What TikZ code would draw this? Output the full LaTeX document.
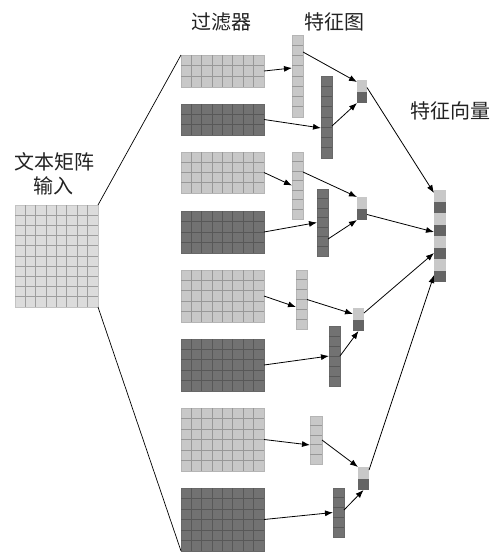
\documentclass[tikz,border=0pt]{standalone}
\usepackage{fontspec}
\newfontfamily\cjk{Noto Sans CJK SC}
\usetikzlibrary{arrows.meta,fit,calc}
\definecolor{lightfill}{HTML}{C8C8C8}
\definecolor{lightline}{HTML}{989898}
\definecolor{darkfill}{HTML}{727272}
\definecolor{darkline}{HTML}{585858}
\definecolor{poolfill}{HTML}{646464}
\definecolor{inputfill}{HTML}{DCDCDC}
\definecolor{inputline}{HTML}{9E9E9E}
\definecolor{txt}{HTML}{222222}
\tikzset{
  lab/.style={font=\cjk\fontsize{20}{24.5}\selectfont, text=txt, inner sep=0pt},
  arr/.style={-{Latex[length=8pt,width=6pt]}, line width=0.8pt},
  conn/.style={line width=0.7pt},
}
% name x1 y1 x2 y2 cols rows fill line
\newcommand\mgrid[9]{%
  \node[fit={(#2,#3) (#4,#5)}, inner sep=0pt, outer sep=0pt, fill=#8, draw=#9!40!#8, line width=0.6pt] (#1) {};
  \pgfmathsetmacro\rh{(#5-#3)/#7}%
  \pgfmathtruncatemacro\nr{#7-1}%
  \foreach \j in {1,...,\nr}{\draw[#9, line width=0.9pt] (#2,{#3+\j*\rh}) -- (#4,{#3+\j*\rh});}%
  \ifnum#6>1
    \pgfmathsetmacro\cw{(#4-#2)/#6}%
    \pgfmathtruncatemacro\nc{#6-1}%
    \foreach \i in {1,...,\nc}{\draw[#9, line width=0.9pt] ({#2+\i*\cw},#3) -- ({#2+\i*\cw},#5);}%
  \fi
}
% name x1 y1 x2 y2 n  (alternating light / dark cells)
\newcommand\mstack[6]{%
  \node[fit={(#2,#3) (#4,#5)}, inner sep=0pt, outer sep=0pt] (#1) {};
  \pgfmathsetmacro\ch{(#5-#3)/#6}%
  \pgfmathtruncatemacro\nn{#6-1}%
  \foreach \k in {0,...,\nn}{%
    \pgfmathtruncatemacro\odd{mod(\k,2)}%
    \ifnum\odd=0 \def\cc{lightfill}\else\def\cc{poolfill}\fi
    \fill[\cc] (#2,{#3+\k*\ch}) rectangle (#4,{#3+(\k+1)*\ch});
  }%
}
\begin{document}
\begin{tikzpicture}[x=1pt,y=-1pt]
\useasboundingbox (0,0) rectangle (497,552);
% labels
\node[lab, align=center] (tin) at (54,174) {文本矩阵\\输入};
\node[lab] (tfil) at (221,22) {过滤器};
\node[lab] (tmap) at (334,22) {特征图};
\node[lab] (tvec) at (450,111) {特征向量};
% input matrix
\mgrid{in}{15}{205}{98}{307}{8}{10}{inputfill}{inputline}
% filters
\mgrid{f1}{181}{55}{264}{87}{8}{3}{lightfill}{lightline}
\mgrid{f2}{181}{104}{264}{135}{8}{3}{darkfill}{darkline}
\mgrid{f3}{181}{152}{264}{193}{8}{4}{lightfill}{lightline}
\mgrid{f4}{181}{211}{264}{253}{8}{4}{darkfill}{darkline}
\mgrid{f5}{181}{270}{264}{322}{8}{5}{lightfill}{lightline}
\mgrid{f6}{181}{339}{264}{391}{8}{5}{darkfill}{darkline}
\mgrid{f7}{181}{408}{264}{471}{8}{6}{lightfill}{lightline}
\mgrid{f8}{181}{488}{264}{551}{8}{6}{darkfill}{darkline}
% feature maps
\mgrid{m1}{292}{35}{303}{117}{1}{8}{lightfill}{lightline}
\mgrid{m2}{321}{76}{332}{158}{1}{8}{darkfill}{darkline}
\mgrid{m3}{292}{152}{303}{219}{1}{7}{lightfill}{lightline}
\mgrid{m4}{317}{189}{328}{256}{1}{7}{darkfill}{darkline}
\mgrid{m5}{296}{270}{307}{329}{1}{6}{lightfill}{lightline}
\mgrid{m6}{329}{326}{340}{386}{1}{6}{darkfill}{darkline}
\mgrid{m7}{310}{416}{322}{464}{1}{5}{lightfill}{lightline}
\mgrid{m8}{333}{488}{344}{537}{1}{5}{darkfill}{darkline}
% pooled
\mstack{p1}{357}{80}{367}{103}{2}
\mstack{p2}{357}{197}{367}{220}{2}
\mstack{p3}{353}{308}{364}{331}{2}
\mstack{p4}{358}{467}{369}{490}{2}
% feature vector
\mstack{v}{434}{190}{446}{282}{8}
% input connectors
\draw[conn] (in.north east) -- (f1.north west);
\draw[conn] (in.south east) -- (f8.south west);
% group 1
\draw[arr] (f1.east) -- ([yshift=8pt]m1.west);
\draw[arr] (f2.east) -- ([yshift=-11pt]m2.west);
\draw[arr] ([yshift=24pt]m1.east) -- ([yshift=-2pt]p1.north west);
\draw[arr] ([yshift=-9pt]m2.east) -- (p1.south west);
\draw[arr] ([yshift=4pt]p1.east) -- ([yshift=-3pt]v.north west);
% group 2
\draw[arr] (f3.east) -- (m3.west);
\draw[arr] (f4.east) -- (m4.west);
\draw[arr] ([yshift=13.5pt]m3.east) -- (p2.north west);
\draw[arr] ([yshift=-16.5pt]m4.east) -- (p2.south west);
\draw[arr] ([yshift=-6pt]p2.east) -- ([yshift=4pt]v.west);
% group 3
\draw[arr] (f5.east) -- ([yshift=-7.5pt]m5.west);
\draw[arr] (f6.east) -- (m6.west);
\draw[arr] (m5.east) -- ([yshift=5.5pt]p3.west);
\draw[arr] (m6.east) -- (p3.south);
\draw[arr] ([yshift=6.5pt]p3.east) -- ([yshift=-17pt]v.west);
% group 4
\draw[arr] (f7.east) -- ([yshift=-5pt]m7.west);
\draw[arr] (f8.east) -- (m8.west);
\draw[arr] (m7.east) -- (p4.north west);
\draw[arr] ([yshift=2.5pt]m8.east) -- (p4.south);
\draw[arr] ([yshift=-3pt]p4.north east) -- ([yshift=7pt]v.south west);
\end{tikzpicture}
\end{document}
